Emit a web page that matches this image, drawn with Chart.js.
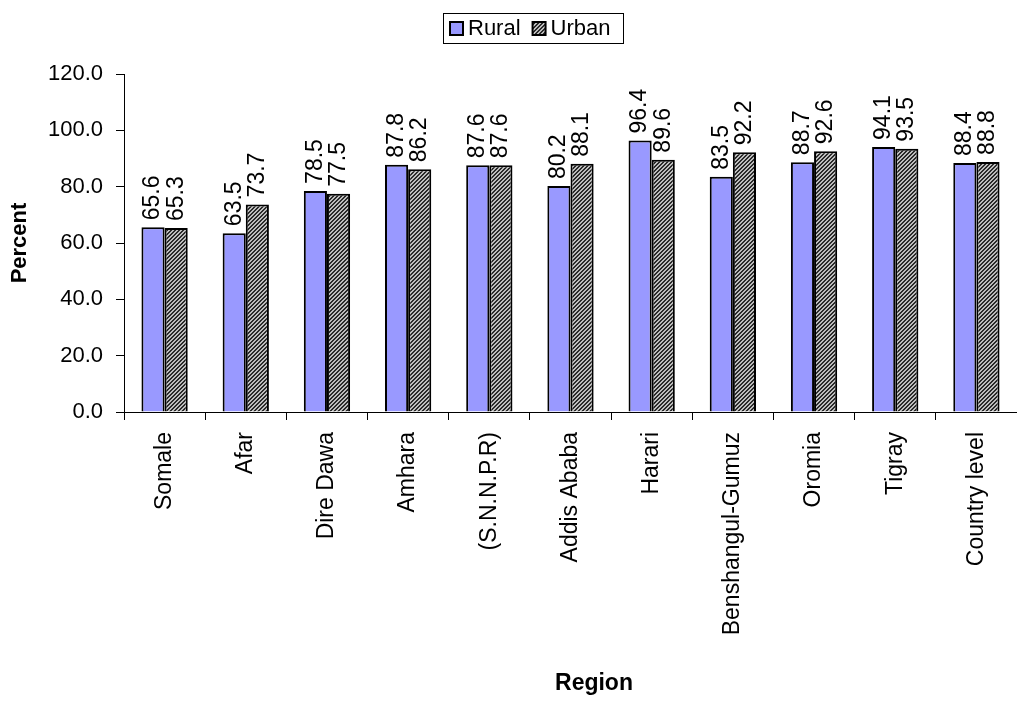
<!DOCTYPE html>
<html>
<head>
<meta charset="utf-8">
<script src="https://cdn.jsdelivr.net/npm/chart.js@4/dist/chart.umd.min.js"></script>
<style>
  html, body { margin: 0; padding: 0; background: #fff; }
  #wrap { width: 1017px; height: 702px; position: relative; }
</style>
</head>
<body>
<div id="wrap"><canvas id="regionChart"></canvas></div>
<script>
const regions = ['Somale', 'Afar', 'Dire Dawa', 'Amhara', '(S.N.N.P.R)', 'Addis Ababa', 'Harari', 'Benshangul-Gumuz', 'Oromia', 'Tigray', 'Country level'];
const ruralValues = [65.6, 63.5, 78.5, 87.8, 87.6, 80.2, 96.4, 83.5, 88.7, 94.1, 88.4];
const urbanValues = [65.3, 73.7, 77.5, 86.2, 87.6, 88.1, 89.6, 92.2, 92.6, 93.5, 88.8];
const yTicks = [0, 20, 40, 60, 80, 100, 120];

const FONT = 'Arial, "Liberation Sans", sans-serif';
const FS = 22;

// dark diagonal hatch for the urban bars
function makeHatch() {
  const c = document.createElement('canvas');
  c.width = 4; c.height = 4;
  const g = c.getContext('2d');
  g.fillStyle = '#bdbdbd';
  g.fillRect(0, 0, 4, 4);
  g.fillStyle = '#2a2a2a';
  for (let i = 0; i < 4; i++) {
    g.fillRect((i + 1) % 4, 3 - i, 1, 1);
    g.fillRect((i + 2) % 4, 3 - i, 1, 1);
  }
  return g.createPattern(c, 'repeat');
}
const hatch = makeHatch();

const valueLabels = {
  id: 'valueLabels',
  afterDatasetsDraw(chart) {
    const ctx = chart.ctx;
    ctx.save();
    ctx.font = '23px ' + FONT;
    ctx.fillStyle = '#000';
    ctx.textAlign = 'left';
    ctx.textBaseline = 'middle';
    chart.data.datasets.forEach((ds, di) => {
      const meta = chart.getDatasetMeta(di);
      meta.data.forEach((bar, i) => {
        ctx.save();
        ctx.translate(bar.x, bar.y - 7);
        ctx.rotate(-Math.PI / 2);
        ctx.fillText(ds.data[i].toFixed(1), 0, 0);
        ctx.restore();
      });
    });
    ctx.restore();
  }
};

// boxed legend and the off-centre axis title, like the original
const extras = {
  id: 'extras',
  afterDraw(chart) {
    const ctx = chart.ctx;
    const ds = chart.data.datasets;
    ctx.save();
    ctx.strokeStyle = '#000';
    ctx.lineWidth = 1;
    ctx.strokeRect(443.5, 13.5, 180, 30);
    ctx.font = FS + 'px ' + FONT;
    ctx.textBaseline = 'middle';
    let x = 450;
    ds.forEach(d => {
      ctx.fillStyle = d.backgroundColor;
      ctx.fillRect(x, 22, 13, 13);
      ctx.lineWidth = 2;
      ctx.strokeRect(x, 22, 13, 13);
      ctx.fillStyle = '#000';
      ctx.fillText(d.label, x + 18, 29);
      x += 18 + ctx.measureText(d.label).width + 12;
    });
    ctx.font = 'bold 23px ' + FONT;
    ctx.textAlign = 'center';
    ctx.fillText('Region', 594, 684);
    ctx.restore();
  }
};

new Chart(document.getElementById('regionChart'), {
  type: 'bar',
  data: {
    labels: regions,
    datasets: [
      {
        label: 'Rural',
        data: ruralValues,
        backgroundColor: '#9999ff',
        borderColor: '#000',
        borderWidth: 2,
        borderSkipped: 'bottom',
        categoryPercentage: 0.57,
        barPercentage: 1.0
      },
      {
        label: 'Urban',
        data: urbanValues,
        backgroundColor: hatch,
        borderColor: '#000',
        borderWidth: 2,
        borderSkipped: 'bottom',
        categoryPercentage: 0.57,
        barPercentage: 1.0
      }
    ]
  },
  options: {
    responsive: true,
    maintainAspectRatio: false,
    animation: false,
    layout: { padding: { top: 74, right: 0, left: 0, bottom: 0 } },
    plugins: {
      tooltip: { enabled: false },
      legend: { display: false }
    },
    scales: {
      x: {
        grid: { display: true, drawOnChartArea: false, offset: true, color: '#000', tickLength: 8 },
        border: { color: '#000' },
        ticks: {
          font: { family: FONT, size: 23 },
          color: '#000',
          maxRotation: 90,
          minRotation: 90,
          padding: 12
        },
        afterFit(scale) { scale.height = 290; }
      },
      y: {
        min: 0,
        max: 120,
        afterBuildTicks(scale) { scale.ticks = yTicks.map(v => ({ value: v })); },
        grid: { display: true, drawOnChartArea: false, color: '#000', tickLength: 8 },
        border: { color: '#000' },
        ticks: {
          font: { family: FONT, size: FS },
          color: '#000',
          padding: 13,
          callback: v => Number(v).toFixed(1)
        },
        title: {
          display: true,
          text: 'Percent',
          font: { family: FONT, size: FS, weight: 'bold' },
          color: '#000',
          padding: { top: 7, bottom: 4 }
        },
        afterFit(scale) { scale.width = 124; }
      }
    }
  },
  plugins: [valueLabels, extras]
});
</script>
</body>
</html>
